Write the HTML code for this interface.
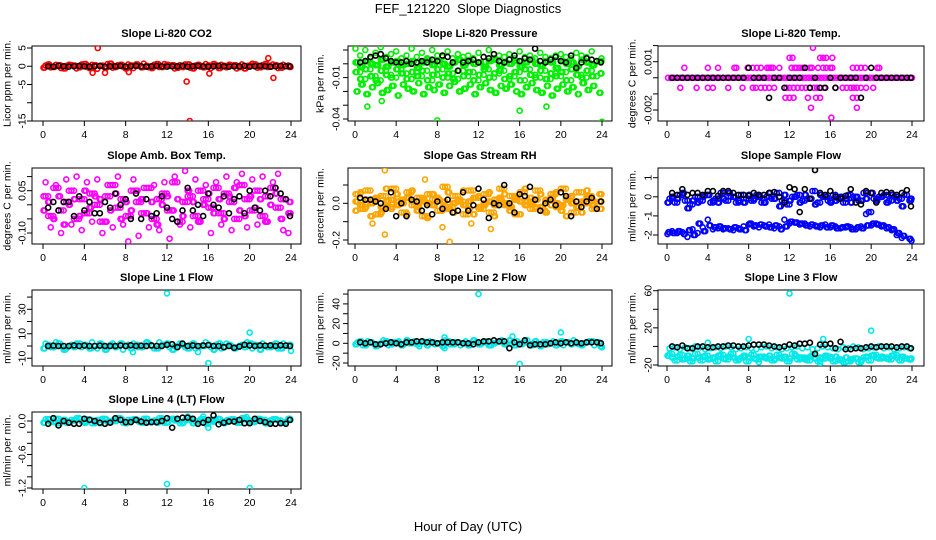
<!DOCTYPE html>
<html><head><meta charset="utf-8">
<style>
html,body{margin:0;padding:0;background:#fff;}
svg{display:block;font-family:"Liberation Sans",Arial,sans-serif;}
</style></head>
<body>
<svg id="chart" width="936" height="540" viewBox="0 0 936 540" xmlns="http://www.w3.org/2000/svg">
<rect x="0" y="0" width="936" height="540" fill="#fff"/>
<text x="468" y="13" text-anchor="middle" font-size="13" style="white-space:pre">FEF_121220  Slope Diagnostics</text>
<text x="468" y="531" text-anchor="middle" font-size="13">Hour of Day (UTC)</text>
<g id="panels"></g>
</svg>
<script>
// ---- shared x categories (hour of day) ----
const hoursA=[0.25,0.75,1.25,1.75,2.25,2.75,3.25,3.75,4.25,4.75,5.25,5.75,6.25,6.75,7.25,7.75,8.25,8.75,9.25,9.75,10.25,10.75,11.25,11.75,12.25,12.75,13.25,13.75,14.25,14.75,15.25,15.75,16.25,16.75,17.25,17.75,18.25,18.75,19.25,19.75,20.25,20.75,21.25,21.75,22.25,22.75,23.25,23.75];
const hoursB=[0.05,0.5,1,1.5,2,2.5,3,3.5,4,4.5,5,5.5,6,6.5,7,7.5,8,8.5,9,9.5,10,10.5,11,11.5,12,12.5,13,13.5,14,14.5,15,15.5,16,16.5,17,17.5,18,18.5,19,19.5,20,20.5,21,21.5,22,22.5,23,23.95];
const hoursC=[0.15,0.6,1.1,1.65,2.15,2.6,3.1,3.6,4.15,4.65,5.1,5.6,6.15,6.6,7.1,7.65,8.1,8.6,9.15,9.65,10.1,10.6,11.15,11.6,12.1,12.65,13.1,13.6,14.15,14.6,15.1,15.65,16.1,16.6,17.15,17.6,18.1,18.65,19.1,19.6,20.15,20.6,21.1,21.65,22.1,22.6,23.15,23.85];
const hoursK=[0.5,1,1.5,2,2.5,3,3.5,4,4.5,5,5.5,6,6.5,7,7.5,8,8.5,9,9.5,10,10.5,11,11.5,12,12.5,13,13.5,14,14.5,15,15.5,16,16.5,17,17.5,18,18.5,19,19.5,20,20.5,21,21.5,22,22.5,23,23.5,23.9];
const xTicks=[0,4,8,12,16,20,24];

// ---- CO2 ----
const co2A=[0.2,-0.3,0.4,-0.5,0.1,0.3,-0.6,0.5,-0.2,0.4,-0.7,0.2,0.6,-0.4,0.3,-0.1,0.5,-0.5,0.2,0.7,-0.3,0.4,-0.2,0.6,0.1,-0.6,0.3,0.5,-0.4,0.2,-0.1,0.6,-0.5,0.3,0.4,-0.3,0.2,-0.6,0.5,0.1,0.7,-0.4,0.3,-0.2,0.5,-0.5,0.4,0.2];
const co2B=[-0.4,0.5,-0.2,0.3,-0.6,0.4,0.2,-0.3,0.6,-0.5,0.3,0.1,-0.4,0.7,-0.2,0.4,-0.6,0.2,0.5,-0.3,0.1,-0.5,0.6,-0.2,0.4,0.3,-0.4,-0.2,0.5,-0.6,0.4,-0.3,0.2,0.6,-0.5,0.1,0.4,0.3,-0.2,-0.6,0.2,0.5,-0.3,0.6,-0.1,0.3,-0.4,-0.2];
const co2K=[0,-0.1,0.1,0,-0.1,0,0.1,0,-0.1,0,0.1,-0.1,0,0,0.1,-0.1,0,0.1,0,-0.1,0,0.1,0,-0.1,0,0,0.1,-0.1,0,0.1,0,-0.1,0,0.1,0,-0.1,0,0,0.1,-0.1,0,0.1,0,-0.1,0,0.1,0,0];
const co2OutX=[5.3,4.8,6,8.3,13.9,14.2,16.1,21.8,22.3];
const co2OutY=[5,-1.8,-1.8,-1.6,-4.2,-15,-2,2.2,-3.2];

// ---- Pressure ----
const prA=[0.001,-0.002,0.002,0,-0.001,0.003,-0.002,0.001,0.002,-0.001,0,0.002,-0.003,0.001,0.003,-0.001,0.002,0,-0.002,0.001,0.003,-0.001,0.002,0,0.001,-0.002,0.002,0.003,-0.001,0.001,0,0.002,-0.002,0.001,0.003,0,-0.001,0.002,0.001,-0.003,0.002,0,0.001,-0.002,0.003,0.001,-0.001,0.002];
const prB=[-0.006,-0.011,-0.004,-0.009,-0.012,-0.005,-0.008,-0.01,-0.004,-0.007,-0.011,-0.006,-0.009,-0.005,-0.012,-0.008,-0.004,-0.01,-0.007,-0.011,-0.005,-0.009,-0.006,-0.012,-0.008,-0.004,-0.01,-0.007,-0.005,-0.011,-0.009,-0.006,-0.012,-0.004,-0.008,-0.01,-0.005,-0.011,-0.007,-0.009,-0.006,-0.012,-0.004,-0.008,-0.01,-0.005,-0.009,-0.007];
const prC=[-0.02,-0.015,-0.022,-0.017,-0.014,-0.021,-0.019,-0.016,-0.023,-0.015,-0.018,-0.02,-0.014,-0.022,-0.017,-0.019,-0.015,-0.021,-0.016,-0.013,-0.02,-0.018,-0.015,-0.022,-0.017,-0.014,-0.019,-0.021,-0.016,-0.018,-0.015,-0.02,-0.022,-0.017,-0.014,-0.019,-0.021,-0.016,-0.023,-0.018,-0.015,-0.02,-0.017,-0.022,-0.014,-0.019,-0.016,-0.021];
const prD=[0.011,0.006,0.01,0.004,0.008,0.012,0.005,0.007,0.009,0.004,0.006,0.011,0.005,0.008,0.004,0.01,0.006,0.005,0.009,0.004,0.007,0.005,0.006,0.004,0.008,0.005,0.01,0.004,0.006,0.005,0.007,0.004,0.009,0.005,0.006,0.004,0.008,0.005,0.004,0.006,0.007,0.005,0.004,0.008,0.006,0.005,0.009,0.004];
const prK=[0.001,0.002,0.005,0.006,0.007,0.004,0.002,0.001,0.001,0.002,0,0.001,0.002,0.001,0.003,0.002,0.006,0.005,0.001,-0.005,0.001,0.002,0.003,0.001,0.005,0.004,0.007,0.002,0.001,0.003,0.006,0.002,0.004,0.003,0.011,0.002,0.001,0.003,0.005,0.002,0.001,0.006,-0.003,0.001,0.004,0.003,0.002,0.001];
const prOutX=[1.2,2.6,8,16,18.6,24];
const prOutY=[-0.031,-0.027,-0.041,-0.034,-0.031,-0.042];

// ---- Li-820 Temp (quantized) ----
const ltmX=[0.1,0.4,0.7,1,1.3,1.6,1.9,2.2,2.5,2.8,3.1,3.4,3.7,4,4.3,4.6,4.9,5.2,5.5,5.8,6.1,6.4,6.7,7,7.3,7.6,7.9,8.2,8.5,8.8,9.1,9.4,9.7,10,10.3,10.6,10.9,11.2,11.5,11.8,12.1,12.4,12.7,13,13.3,13.6,13.9,14.2,14.5,14.8,15.1,15.4,15.7,16,16.3,16.6,16.9,17.2,17.5,17.8,18.1,18.4,18.7,19,19.3,19.6,19.9,20.2,20.5,20.8,21.1,21.4,21.7,22,22.3,22.6,22.9,23.2,23.5,23.8,24,
 1.7,4,5,6.6,6.8,7.9,8.4,8.8,9.2,9.8,10,10.2,10.4,11,12.2,12.5,12.7,13,13.3,13.6,14,14.2,14.8,15.3,15.6,16,16.2,18.2,18.6,19,19.4,20.6,20.8,
 12,12.3,15,15.3,15.6,16.2,14.3,
 1.3,2.9,4,4.5,6,7.4,8.4,8.7,9.2,9.6,10,10.5,11.7,12,12.4,12.8,13.2,13.6,14,14.4,14.7,15,15.4,16.5,17.2,17.6,18,18.3,18.6,19,19.5,20.2,
 11.6,12,12.4,13.8,14.6,15,18.2,18.6,14.1,18.6,16.1];
const ltmY=[0,0,0,0,0,0,0,0,0,0,0,0,0,0,0,0,0,0,0,0,0,0,0,0,0,0,0,0,0,0,0,0,0,0,0,0,0,0,0,0,0,0,0,0,0,0,0,0,0,0,0,0,0,0,0,0,0,0,0,0,0,0,0,0,0,0,0,0,0,0,0,0,0,0,0,0,0,0,0,0,0,
 0.00062,0.00062,0.00062,0.00062,0.00062,0.00062,0.00062,0.00062,0.00062,0.00062,0.00062,0.00062,0.00062,0.00062,0.00062,0.00062,0.00062,0.00062,0.00062,0.00062,0.00062,0.00062,0.00062,0.00062,0.00062,0.00062,0.00062,0.00062,0.00062,0.00062,0.00062,0.00062,0.00062,
 0.00124,0.00124,0.00124,0.00124,0.00124,0.00124,0.00186,
 -0.00062,-0.00062,-0.00062,-0.00062,-0.00062,-0.00062,-0.00062,-0.00062,-0.00062,-0.00062,-0.00062,-0.00062,-0.00062,-0.00062,-0.00062,-0.00062,-0.00062,-0.00062,-0.00062,-0.00062,-0.00062,-0.00062,-0.00062,-0.00062,-0.00062,-0.00062,-0.00062,-0.00062,-0.00062,-0.00062,-0.00062,-0.00062,
 -0.00124,-0.00124,-0.00124,-0.00124,-0.00124,-0.00124,-0.00124,-0.00124,-0.00186,-0.00186,-0.00248];
const ltkY=[0,0,0,0,0,0,0,0,0,0,0,0,0,0,0,0.00062,0,0,0,-0.00124,0,0,-0.00062,0,0,0,0.00062,-0.00062,0,-0.00062,-0.00062,0,-0.00062,0,0,0,0,-0.00124,0,0.00062,0,0,0,0,0,0,0,0];

// ---- Amb Box Temp ----
const abA=[0.03,-0.04,0.06,-0.02,0.01,0.05,-0.05,0.02,-0.03,0.04,0,-0.06,0.03,0.07,-0.01,0.02,-0.04,0.05,0.01,-0.03,0.06,-0.05,0.02,0.04,-0.02,0.08,-0.06,0.01,0.03,-0.04,0.05,0.02,-0.01,0.06,-0.03,0.04,0.01,-0.05,0.07,0.02,-0.02,0.05,-0.04,0.03,0.06,-0.01,0.02,-0.03];
const abB=[-0.02,0.01,-0.05,0.03,-0.07,0,0.02,-0.04,0.05,-0.01,0.03,0.02,-0.06,-0.02,0.04,-0.05,0.01,-0.02,0.05,0.02,-0.03,0.01,-0.07,0,0.03,-0.02,0.02,-0.04,0.05,0.01,-0.06,0,0.04,-0.03,0.02,-0.05,0.03,0.06,-0.02,-0.04,0.03,-0.01,0.02,-0.06,0,0.04,-0.05,0.01];
const abC=[0.08,-0.08,0.07,-0.1,0.09,-0.07,0.1,-0.09,0.08,-0.06,0.09,-0.1,0.07,-0.08,0.1,-0.07,-0.13,0.09,-0.11,0.06,-0.08,0.07,-0.09,0.08,-0.12,0.1,-0.07,0.12,-0.08,0.09,-0.06,0.07,-0.1,0.08,-0.07,0.1,-0.09,0.08,0.11,-0.08,0.09,-0.07,0.1,-0.06,0.08,0.11,-0.09,-0.1];
const abK=[-0.01,0.01,-0.02,0.01,0.01,-0.04,0.03,-0.02,0.01,-0.03,-0.03,0.01,-0.01,0.04,0,0.02,-0.05,0.04,-0.05,0.02,-0.04,-0.03,0.03,-0.01,-0.05,-0.06,-0.02,0.06,-0.02,0,-0.04,0.04,0,-0.01,0.03,-0.03,0.02,0.03,-0.03,0.05,-0.01,-0.02,0.05,0.03,0.06,0.04,0.02,-0.04];

// ---- Gas Stream RH ----
const rhA=[0.05,-0.03,0.07,0.02,-0.06,0.04,-0.02,0.08,0.01,-0.05,0.06,-0.01,0.03,-0.07,0.05,0.02,-0.04,0.09,-0.02,0.04,0.01,-0.06,0.07,0.03,-0.03,0.05,-0.05,0.02,0.08,-0.01,0.04,-0.06,0.06,0.01,-0.03,0.07,-0.04,0.02,0.05,-0.02,0.08,0.03,-0.05,0.06,0,0.04,-0.03,0.05];
const rhB=[-0.04,0.06,-0.02,-0.07,0.03,-0.05,0.08,-0.03,0.05,0.02,-0.06,0.07,-0.04,0.01,-0.08,0.05,0.03,-0.02,0.06,-0.05,0.02,0.07,-0.03,-0.06,0.04,-0.01,0.06,-0.07,0.03,0.05,-0.04,0.02,-0.06,0.08,0.03,-0.02,0.05,-0.05,-0.01,0.06,-0.04,-0.07,0.04,0.01,-0.05,0.07,0.02,-0.03];
const rhC=[0.01,-0.01,0.02,0,0.03,-0.02,0.01,0.02,-0.01,0,0.03,0.01,-0.02,0.02,0,-0.01,0.02,0.01,-0.03,0,0.02,-0.01,0.01,0.03,-0.02,0,0.01,-0.01,0.02,0,-0.02,0.03,0.01,-0.01,0,0.02,-0.02,0.01,0.03,0,-0.01,0.02,0,-0.02,0.01,0.03,-0.01,0.01];
const rhK=[0.03,0.02,0.02,0.01,0,-0.03,0.06,-0.07,0,-0.07,0.02,0.01,-0.04,-0.01,-0.06,0.01,-0.03,0.02,-0.05,-0.04,0.06,-0.04,-0.01,0.08,0.02,-0.08,0,-0.01,0.1,0,-0.05,0.05,0.04,0.09,0.02,-0.04,0,0.02,-0.01,0.06,0.04,-0.07,0.01,-0.02,0.01,0.03,-0.03,0.01];
const rhOutX=[2.9,6.8,9.2,2.9,8.5,13.2,1.7,11.3];
const rhOutY=[0.18,0.13,-0.21,-0.17,-0.13,-0.14,-0.11,-0.11];

// ---- Sample Flow ----
const sfUA=[-0.1,-0.3,0.1,-0.2,-0.4,0,-0.2,0.1,-0.3,-0.1,0.2,-0.2,0,-0.3,0.1,-0.1,-0.2,0.1,-0.3,0,-0.1,0.2,-0.2,-0.4,0,0.1,-0.2,-0.1,0.3,-0.3,0,-0.2,0.1,-0.1,-0.3,0.1,0,-0.2,0.2,-0.8,-0.1,0,0.1,-0.2,0,-0.1,0.1,-0.2];
const sfUB=[-0.3,0,-0.1,0.2,-0.6,-0.2,-0.3,0,0.1,-0.2,-0.3,-0.1,0.2,0,-0.2,-0.3,0.1,-0.1,0,-0.3,0.2,-0.1,-0.5,0.1,-0.2,0,-0.3,0.1,-0.1,-0.4,0.1,0,-0.3,-0.2,0,-0.1,-0.3,0,-0.2,-0.1,0.2,-0.2,0,-0.3,0.1,-0.2,-0.5,-0.1];
const sfLA=[-1.85,-1.9,-1.8,-1.95,-1.75,-2.0,-1.4,-1.8,-1.5,-1.6,-1.55,-1.65,-1.7,-1.6,-1.7,-1.75,-1.4,-1.5,-1.45,-1.55,-1.6,-1.5,-1.7,-1.55,-1.3,-1.35,-1.4,-1.5,-1.45,-1.55,-1.5,-1.6,-1.5,-1.65,-1.6,-1.55,-1.7,-1.6,-1.65,-1.5,-1.4,-1.45,-1.5,-1.6,-1.7,-1.9,-2.05,-2.2];
const sfLB=[-1.95,-1.8,-1.9,-1.85,-2.1,-1.7,-1.9,-1.6,-1.2,-1.7,-1.65,-1.7,-1.65,-1.75,-1.65,-1.55,-1.45,-1.55,-1.6,-1.5,-1.45,-1.65,-1.55,-1.2,-1.4,-1.35,-1.45,-1.4,-1.55,-1.5,-1.6,-1.45,-1.6,-1.55,-1.65,-1.6,-1.6,-1.7,-1.55,-0.9,-1.5,-1.4,-1.55,-1.65,-1.75,-2.0,-2.15,-2.3];
const sfK=[0.2,0.1,0.4,0.1,0.2,0.2,0.1,0.3,0.3,0.05,0.3,0.3,0.2,0.1,0.1,0.05,0.2,0.1,0.1,0.2,0.25,0,-0.3,0.5,0.4,-0.8,0.4,-0.1,1.4,0.2,0.1,0.3,0,-0.1,0.05,0.4,-0.3,-0.4,0.3,0.2,-0.3,0.2,0.25,0.2,0.1,0.2,0.35,-0.5];

// ---- Line 1 Flow ----
const l1A=[2,-1,3,0,-2,1,2,-1,0,3,-2,1,-1,2,0,-3,1,2,-1,0,2,-2,3,1,-1,0,2,-1,1,-2,0,3,-1,1,-2,2,0,-1,1,3,-2,0,2,-1,1,-2,2,0];
const l1B=[-2,1,-1,2,-3,0,-1,2,1,-2,0,2,-3,1,-1,2,0,-2,1,-1,3,0,-2,1,2,-3,0,1,-2,2,-1,0,1,-3,2,-1,1,-2,0,-1,2,1,-3,0,-1,2,-2,1];
const l1K=[0,0.3,0,0,0,0.5,0,0.4,0,0,0.3,0,0,0,0.5,0,0.6,0,0.3,0,0.5,0,0,1,1.5,-1,2,0,0.5,0,0.5,0.8,0,0,-1,0,-1.5,-0.5,1,0.5,0,0.5,0.3,0.5,0,0.6,0.4,0];
const l1OutX=[12,16,20,24,15,8.7];
const l1OutY=[43,-14,11,-4,-5,-5];

// ---- Line 2 Flow ----
const l2A=[1,-2,2,0,-1,3,-2,1,2,-1,0,2,-3,1,2,-1,0,3,-1,1,-2,2,0,1,-1,2,-2,1,3,-1,0,2,-1,3,-2,0,1,-1,2,0,-2,1,3,-1,0,2,-2,1];
const l2B=[-1,2,-2,1,-3,0,2,-1,1,-2,3,0,-1,2,-2,1,0,-3,2,-1,1,0,-2,3,-1,1,-2,0,2,-1,3,-2,0,1,-1,2,-3,1,0,-2,2,1,-1,0,-2,1,2,-3];
const l2K=[1,0,1,-1,-1,0,1,0,-1,1,1,2,2,1,1,0,1,1,1,1,0,0,-1,1,2,2,3,2,2,-5,1,-1,3,-2,-1,-1,-1,0,1,0,1,0,1,0,1,1,1,0];
const l2OutX=[12,16,20,8.7,15.3,24,8.7];
const l2OutY=[50,-21,11,6,7,-4,-5];

// ---- Line 3 Flow ----
const l3A=[-2,-1,-3,-1,-2,0,-1,-3,-2,-1,-2,0,-1,-3,-2,-1,-2,-3,-1,0,-2,-1,-3,-2,-1,0,-2,-1,-3,-2,0,-1,-2,-3,-1,-2,0,-1,-3,-2,-1,0,-2,-1,-3,-2,-1,-2];
const l3B=[-10,-12,-11,-14,-10,-13,-12,-11,-14,-12,-10,-13,-11,-12,-14,-10,-12,-13,-11,-12,-10,-14,-12,-11,-13,-10,-12,-14,-11,-13,-12,-10,-13,-11,-15,-12,-14,-13,-15,-11,-10,-12,-11,-13,-10,-12,-11,-13];
const l3C=[-8,-15,-9,-13,-16,-8,-15,-10,-13,-16,-9,-14,-8,-15,-12,-16,-9,-14,-11,-13,-15,-9,-13,-16,-8,-14,-12,-15,-9,-16,-13,-11,-16,-14,-17,-16,-13,-17,-12,-15,-9,-13,-12,-14,-9,-15,-13,-14];
const l3K=[0,-1,1,-2,-2,0,0,-1,-1,0,0,1,1,0,0,1,2,2,2,1,0,-1,0,2,1,3,3,4,-8,2,2,3,-2,5,-3,-3,-2,-2,-1,0,-1,0,0,0,-1,0,0,-2];
const l3OutX=[12,20,8,15.3,9,15,4];
const l3OutY=[57,17,8,8,-17,-18,4];

// ---- Line 4 (LT) Flow ----
const l4A=[0.03,-0.02,0.04,0.01,-0.03,0.02,0.05,-0.01,0.03,-0.04,0.02,0.04,-0.02,0.01,0.05,-0.03,0.02,0.03,-0.01,0.04,-0.02,0.01,0.05,-0.03,0.03,0.01,-0.04,0.02,0.04,-0.01,0.03,-0.05,0.02,0.04,-0.02,0.01,0.03,-0.03,0.05,0.01,-0.02,0.04,0.02,-0.03,0.03,0.01,-0.02,0.04];
const l4B=[-0.03,0.03,-0.01,-0.04,0.02,-0.02,0.01,0.04,-0.03,0.02,-0.01,-0.04,0.03,-0.02,0,0.03,-0.04,0.01,0.02,-0.03,0.04,-0.01,-0.03,0.02,-0.02,0.04,0.01,-0.03,0.02,-0.04,0,0.03,-0.02,-0.01,0.03,-0.04,0.02,0.01,-0.03,0.04,-0.02,0,0.03,-0.04,0.01,0.03,-0.03,0.02];
const l4K=[-0.05,0.05,-0.08,0,-0.03,-0.05,-0.05,0.04,0.02,0,-0.03,-0.05,-0.03,0.05,0.02,-0.02,-0.02,0.02,-0.01,-0.03,-0.02,-0.02,0,0.05,-0.12,0.04,0.06,0.06,0.04,-0.05,-0.03,0.02,0.1,-0.06,-0.03,-0.01,-0.01,0.02,-0.04,-0.04,0.04,0,-0.02,-0.05,-0.05,-0.04,-0.05,0.02];
const l4OutX=[4,12,20,16,14,15.5,19.7];
const l4OutY=[-1.2,-1.13,-1.2,-0.12,0.08,0.08,0.07];

// ---- Y tick values & labels per panel ----
const tk1=[5,0,-5,-10,-15], tl1=["5","0","-5","","-15"];
const tk2=[0.01,0,-0.01,-0.02,-0.03,-0.04], tl2=["","","-0.01","","","-0.04"];
const tk3=[0.002,0.001,0,-0.001,-0.002], tl3=["","0.001","","","-0.002"];
const tk4=[0.1,0.05,0,-0.05,-0.1], tl4=["","0.05","","","-0.10"];
const tk5=[0.1,0,-0.1,-0.2], tl5=["","0.0","","-0.2"];
const tk6=[1,0,-1,-2], tl6=["1","0","-1","-2"];
const tk7=[40,30,20,10,0,-10], tl7=["","30","","10","","-10"];
const tk8=[50,40,30,20,10,0,-10,-20], tl8=["","40","","20","","0","","-20"];
const tk9=[60,40,20,0,-20], tl9=["60","","20","","-20"];
const tk10=[0,-0.2,-0.4,-0.6,-0.8,-1,-1.2], tl10=["0.0","","","-0.6","","","-1.2"];

const NS="http://www.w3.org/2000/svg";
const root=document.getElementById('panels');
function mk(tag,attrs,parent){const e=document.createElementNS(NS,tag);for(const k in attrs)e.setAttribute(k,attrs[k]);(parent||root).appendChild(e);return e;}

const cols=[{bx:32,bw:269,x0:43,x1:291,lab:7,tl:22},{bx:348,bw:264,x0:355,x1:602,lab:320,tl:336},{bx:658,bw:266,x0:667,x1:912,lab:632,tl:648}];
const rows=[{by:46,bh:75},{by:168,bh:76},{by:290,bh:76},{by:412,bh:77}];

function panel(p){
  const c=cols[p.col], r=rows[p.row];
  const g=mk('g',{});
  
  
  const sx=h=>c.x0+(h/24)*(c.x1-c.x0);
  const sy=v=>p.p1+(v-p.v1)/(p.v2-p.v1)*(p.p2-p.p1);
  const clip='clip'+p.row+p.col;
  const cp=mk('clipPath',{id:clip},g);
  mk('rect',{x:c.bx,y:r.by,width:c.bw,height:r.bh},cp);
  const t=mk('text',{x:c.bx+c.bw/2,y:r.by-9,'text-anchor':'middle','font-size':11,'font-weight':'bold'},g);
  t.textContent=p.title;
  
  
  const yl=mk('text',{x:c.lab,y:r.by+r.bh/2,'text-anchor':'middle','font-size':10.5,transform:`rotate(-90 ${c.lab} ${r.by+r.bh/2})`,dy:'0.35em'},g);
  yl.textContent=p.ylab;
  
  
  const fr=mk('rect',{x:c.bx,y:r.by,width:c.bw,height:r.bh,fill:'none',stroke:'#000','stroke-width':1},g);
  
  
  const xa=mk('g',{},g);
  
  
  const yb=r.by+r.bh;
  mk('line',{x1:sx(0),x2:sx(24),y1:yb,y2:yb,stroke:'#000'},xa);
  xTicks.forEach(h=>{
    mk('line',{x1:sx(h),x2:sx(h),y1:yb,y2:yb+5,stroke:'#000'},xa);
    const tx=mk('text',{x:sx(h),y:yb+17,'text-anchor':'middle','font-size':10.5},xa);
    tx.textContent=String(h);
    
    
  });
  const ya=mk('g',{},g);
  
  
  const yy=p.ticks.map(sy);
  mk('line',{x1:c.bx,x2:c.bx,y1:Math.min(...yy),y2:Math.max(...yy),stroke:'#000'},ya);
  p.ticks.forEach((v,i)=>{
    const y=sy(v);
    mk('line',{x1:c.bx-5,x2:c.bx,y1:y,y2:y,stroke:'#000'},ya);
    if(p.tlab[i]){
      const tx=mk('text',{x:c.tl,y:y,'text-anchor':'middle','font-size':10.5,dy:'0.35em',transform:`rotate(-90 ${c.tl} ${y})`},ya);
      tx.textContent=p.tlab[i];
      
      
    }
  });
  const pg=mk('g',{'clip-path':`url(#${clip})`,fill:'none','stroke-width':1.6},g);
  p.series.forEach(s=>{
    const sg=mk('g',{stroke:s.color},pg);
    
    
    s.ys.forEach((v,i)=>{
      const ci=mk('circle',{cx:sx(s.xs[i]),cy:sy(v),r:2.5},sg);
      
      
    });
  });
}

const RED='#ff0000',GRN='#00ee00',MAG='#ff00ff',ORG='#ffa500',BLU='#0000ff',CYN='#00e8e8',BLK='#000';
const P=[
 {name:'panel-co2',col:0,row:0,title:'Slope Li-820 CO2',ylab:'Licor ppm per min.',v1:5,p1:48,v2:-15,p2:121,ticks:tk1,tlab:tl1,
  series:[{name:'co2-series',color:RED,xs:hoursA,ys:co2A},{name:'co2-series-b',color:RED,xs:hoursB,ys:co2B},{name:'co2-series-c',color:RED,xs:hoursC,ys:co2B},{name:'co2-outliers',color:RED,xs:co2OutX,ys:co2OutY},{name:'co2-black',color:BLK,xs:hoursK,ys:co2K}]},
 {name:'panel-pressure',col:1,row:0,title:'Slope Li-820 Pressure',ylab:'kPa per min.',v1:0.01,p1:50,v2:-0.04,p2:119,ticks:tk2,tlab:tl2,
  series:[{name:'pressure-a',color:GRN,xs:hoursA,ys:prA},{name:'pressure-b',color:GRN,xs:hoursB,ys:prB},{name:'pressure-c',color:GRN,xs:hoursA,ys:prC},{name:'pressure-d',color:GRN,xs:hoursB,ys:prD},{name:'pressure-e',color:GRN,xs:hoursB,ys:prA},{name:'pressure-f',color:GRN,xs:hoursC,ys:prA},{name:'pressure-g',color:GRN,xs:hoursC,ys:prB},{name:'pressure-h',color:GRN,xs:hoursK,ys:prB},{name:'pressure-i',color:GRN,xs:hoursC,ys:prC},{name:'pressure-outliers',color:GRN,xs:prOutX,ys:prOutY},{name:'pressure-black',color:BLK,xs:hoursK,ys:prK}]},
 {name:'panel-li-temp',col:2,row:0,title:'Slope Li-820 Temp.',ylab:'degrees C per min.',v1:0.001,p1:61.7,v2:-0.002,p2:110,ticks:tk3,tlab:tl3,
  series:[{name:'li-temp-series',color:MAG,xs:ltmX,ys:ltmY},{name:'li-temp-black',color:BLK,xs:hoursK,ys:ltkY}]},
 {name:'panel-amb-temp',col:0,row:1,title:'Slope Amb. Box Temp.',ylab:'degrees C per min.',v1:0.05,p1:190.7,v2:-0.1,p2:233,ticks:tk4,tlab:tl4,
  series:[{name:'amb-a',color:MAG,xs:hoursA,ys:abA},{name:'amb-b',color:MAG,xs:hoursB,ys:abB},{name:'amb-c',color:MAG,xs:hoursA,ys:abC},{name:'amb-d',color:MAG,xs:hoursB,ys:abA},{name:'amb-e',color:MAG,xs:hoursC,ys:abB},{name:'amb-f',color:MAG,xs:hoursK,ys:abA},{name:'amb-black',color:BLK,xs:hoursK,ys:abK}]},
 {name:'panel-rh',col:1,row:1,title:'Slope Gas Stream RH',ylab:'percent per min.',v1:0.1,p1:185,v2:-0.2,p2:240,ticks:tk5,tlab:tl5,
  series:[{name:'rh-a',color:ORG,xs:hoursA,ys:rhA},{name:'rh-b',color:ORG,xs:hoursB,ys:rhB},{name:'rh-c',color:ORG,xs:hoursA,ys:rhC},{name:'rh-d',color:ORG,xs:hoursB,ys:rhC},{name:'rh-e',color:ORG,xs:hoursB,ys:rhA},{name:'rh-f',color:ORG,xs:hoursC,ys:rhB},{name:'rh-g',color:ORG,xs:hoursK,ys:rhA},{name:'rh-h',color:ORG,xs:hoursC,ys:rhC},{name:'rh-outliers',color:ORG,xs:rhOutX,ys:rhOutY},{name:'rh-black',color:BLK,xs:hoursK,ys:rhK}]},
 {name:'panel-sample-flow',col:2,row:1,title:'Slope Sample Flow',ylab:'ml/min per min.',v1:1,p1:177.7,v2:-2,p2:235,ticks:tk6,tlab:tl6,
  series:[{name:'sample-upper-a',color:BLU,xs:hoursA,ys:sfUA},{name:'sample-upper-b',color:BLU,xs:hoursB,ys:sfUB},{name:'sample-upper-c',color:BLU,xs:hoursC,ys:sfUB},{name:'sample-upper-d',color:BLU,xs:hoursK,ys:sfUA},{name:'sample-lower-a',color:BLU,xs:hoursA,ys:sfLA},{name:'sample-lower-b',color:BLU,xs:hoursB,ys:sfLB},{name:'sample-lower-c',color:BLU,xs:hoursC,ys:sfLA},{name:'sample-black',color:BLK,xs:hoursK,ys:sfK}]},
 {name:'panel-line1',col:0,row:2,title:'Slope Line 1 Flow',ylab:'ml/min per min.',v1:30,p1:309.3,v2:0,p2:346,ticks:tk7,tlab:tl7,
  series:[{name:'line1-a',color:CYN,xs:hoursA,ys:l1A},{name:'line1-b',color:CYN,xs:hoursB,ys:l1B},{name:'line1-c',color:CYN,xs:hoursC,ys:l1B},{name:'line1-outliers',color:CYN,xs:l1OutX,ys:l1OutY},{name:'line1-black',color:BLK,xs:hoursK,ys:l1K}]},
 {name:'panel-line2',col:1,row:2,title:'Slope Line 2 Flow',ylab:'ml/min per min.',v1:0,p1:343.3,v2:-20,p2:363,ticks:tk8,tlab:tl8,
  series:[{name:'line2-a',color:CYN,xs:hoursA,ys:l2A},{name:'line2-b',color:CYN,xs:hoursB,ys:l2B},{name:'line2-c',color:CYN,xs:hoursC,ys:l2B},{name:'line2-outliers',color:CYN,xs:l2OutX,ys:l2OutY},{name:'line2-black',color:BLK,xs:hoursK,ys:l2K}]},
 {name:'panel-line3',col:2,row:2,title:'Slope Line 3 Flow',ylab:'ml/min per min.',v1:60,p1:290.7,v2:-20,p2:365,ticks:tk9,tlab:tl9,
  series:[{name:'line3-a',color:CYN,xs:hoursA,ys:l3A},{name:'line3-b',color:CYN,xs:hoursB,ys:l3B},{name:'line3-c',color:CYN,xs:hoursA,ys:l3C},{name:'line3-d',color:CYN,xs:hoursC,ys:l3B},{name:'line3-e',color:CYN,xs:hoursK,ys:l3C},{name:'line3-outliers',color:CYN,xs:l3OutX,ys:l3OutY},{name:'line3-black',color:BLK,xs:hoursK,ys:l3K}]},
 {name:'panel-line4',col:0,row:3,title:'Slope Line 4 (LT) Flow',ylab:'ml/min per min.',v1:0,p1:421,v2:-1.2,p2:488,ticks:tk10,tlab:tl10,
  series:[{name:'line4-a',color:CYN,xs:hoursA,ys:l4A},{name:'line4-b',color:CYN,xs:hoursB,ys:l4B},{name:'line4-c',color:CYN,xs:hoursC,ys:l4B},{name:'line4-d',color:CYN,xs:hoursK,ys:l4A},{name:'line4-outliers',color:CYN,xs:l4OutX,ys:l4OutY},{name:'line4-black',color:BLK,xs:hoursK,ys:l4K}]}
];
P.forEach(panel);
</script>
</body></html>
